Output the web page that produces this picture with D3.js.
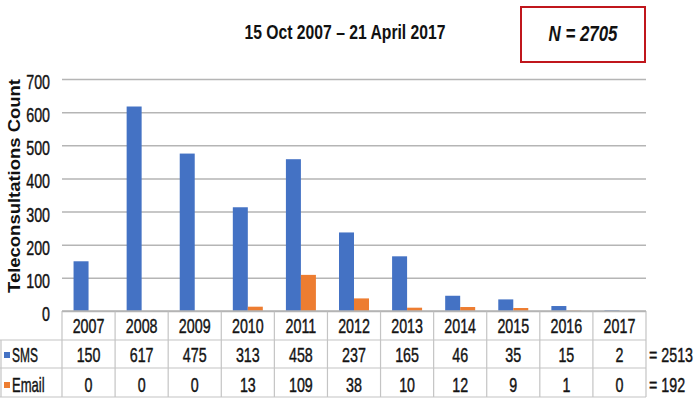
<!DOCTYPE html>
<html>
<head>
<meta charset="utf-8">
<script src="https://cdn.jsdelivr.net/npm/d3@7/dist/d3.min.js"></script>
<style>
  html, body { margin: 0; padding: 0; background: #fff; }
  svg { display: block; }
  text { font-family: "Liberation Sans", Arial, sans-serif; fill: #111; }
</style>
</head>
<body>
<svg id="chart" width="696" height="398"></svg>
<script>
// Teleconsultations per year, by channel
const years = ["2007","2008","2009","2010","2011","2012","2013","2014","2015","2016","2017"];
const smsCounts = [150, 617, 475, 313, 458, 237, 165, 46, 35, 15, 2];
const emailCounts = [0, 0, 0, 13, 109, 38, 10, 12, 9, 1, 0];
const seriesNames = ["SMS", "Email"];
const seriesTotals = ["= 2513", "= 192"];
const yTicks = [0, 100, 200, 300, 400, 500, 600, 700];
const titleText = "15 Oct 2007 \u2013 21 April 2017";
const totalText = "N = 2705";
const yTitle = "Teleconsultations Count";

const colors = { SMS: "#4472C4", Email: "#ED7D31" };
const series = { SMS: smsCounts, Email: emailCounts };

const svg = d3.select("#chart");
const plot = { left: 62, right: 646, top: 79, bottom: 311 };
const rowEdges = [311, 340, 368, 397];
const narrow = 0.68; // horizontal condensing of the text faces
const fs = 21;

const x0 = d3.scaleBand().domain(years).range([plot.left, plot.right]).paddingInner(0).paddingOuter(0);
const x1 = d3.scaleBand().domain(seriesNames).range([0, x0.bandwidth()]).paddingInner(0).paddingOuter(0.77);
const y = d3.scaleLinear().domain([0, 700]).range([plot.bottom, plot.top]);

// gridlines and tick labels
const yAxis = d3.axisLeft(y).tickValues(yTicks).tickSize(-(plot.right - plot.left)).tickPadding(0);
const gAxis = svg.append("g").attr("transform", `translate(${plot.left},0)`).call(yAxis);
gAxis.select(".domain").remove();
gAxis.selectAll(".tick line").attr("stroke", "#b5b5b5").attr("stroke-width", 1.5);
gAxis.selectAll(".tick text")
  .attr("x", 0).attr("dy", "0.36em")
  .attr("font-size", fs).attr("fill", "#1a1a1a")
  .attr("stroke", "#1a1a1a").attr("stroke-width", 0.45)
  .attr("font-family", "Liberation Sans, Arial, sans-serif")
  .attr("text-anchor", "end")
  .attr("transform", `translate(-12,2) scale(${narrow},1)`);

// bars
const groups = svg.append("g").selectAll("g").data(years).join("g")
  .attr("transform", d => `translate(${x0(d)},0)`);
groups.selectAll("rect")
  .data((d, i) => seriesNames.map(k => ({ key: k, value: series[k][i] })))
  .join("rect")
  .attr("x", d => x1(d.key))
  .attr("width", x1.bandwidth())
  .attr("y", d => y(d.value))
  .attr("height", d => plot.bottom - y(d.value))
  .attr("fill", d => colors[d.key]);

// data table under the plot
const table = svg.append("g").attr("stroke", "#c4c4c4").attr("stroke-width", 1.2);
table.append("line").attr("x1", 0).attr("x2", plot.right).attr("y1", rowEdges[1]).attr("y2", rowEdges[1]);
table.append("line").attr("x1", 0).attr("x2", plot.right).attr("y1", rowEdges[2]).attr("y2", rowEdges[2]);
table.append("line").attr("x1", 0).attr("x2", plot.right).attr("y1", rowEdges[3]).attr("y2", rowEdges[3]);
table.append("line").attr("x1", 1).attr("x2", 1).attr("y1", rowEdges[1]).attr("y2", rowEdges[3]);
table.selectAll("line.v").data(years.map(d => x0(d)).concat([plot.right])).join("line")
  .attr("class", "v")
  .attr("x1", d => d).attr("x2", d => d)
  .attr("y1", rowEdges[0]).attr("y2", rowEdges[3]);
// x axis baseline
svg.append("line").attr("x1", plot.left).attr("x2", plot.right)
  .attr("y1", plot.bottom).attr("y2", plot.bottom)
  .attr("stroke", "#b5b5b5").attr("stroke-width", 1.5);

function narrowText(g, txt, x, yy, anchor, size) {
  return g.append("text").text(txt)
    .attr("text-anchor", anchor)
    .attr("font-size", size)
    .attr("fill", "#1a1a1a")
    .attr("stroke", "#1a1a1a").attr("stroke-width", 0.45)
    .attr("transform", `translate(${x},${yy}) scale(${narrow},1)`);
}

const cells = svg.append("g");
years.forEach((yr, i) => {
  const cx = x0(yr) + x0.bandwidth() / 2;
  narrowText(cells, yr, cx, 333, "middle", fs);
  narrowText(cells, String(smsCounts[i]), cx, 362, "middle", fs);
  narrowText(cells, String(emailCounts[i]), cx, 392, "middle", fs);
});

// row labels with colour keys
const rowBase = [362, 392];
seriesNames.forEach((name, j) => {
  cells.append("rect").attr("x", 4).attr("y", rowBase[j] - 10).attr("width", 6).attr("height", 6)
    .attr("fill", colors[name]);
  narrowText(cells, name, 12, rowBase[j], "start", fs)
    .attr("textLength", name === "SMS" ? 38 : 48).attr("lengthAdjust", "spacingAndGlyphs");
  narrowText(cells, seriesTotals[j], 649, rowBase[j], "start", fs);
});

// axis title
svg.append("text").text(yTitle)
  .attr("text-anchor", "middle")
  .attr("font-size", 17).attr("font-weight", "bold")
  .attr("textLength", 214).attr("lengthAdjust", "spacingAndGlyphs")
  .attr("transform", "translate(20,186) rotate(-90)");

// heading
svg.append("text").text(titleText)
  .attr("x", 345).attr("y", 39)
  .attr("text-anchor", "middle")
  .attr("font-size", 20).attr("font-weight", "bold")
  .attr("textLength", 201).attr("lengthAdjust", "spacingAndGlyphs");

// total count box
svg.append("rect").attr("x", 521).attr("y", 7).attr("width", 124).attr("height", 55)
  .attr("fill", "none").attr("stroke", "#C0161C").attr("stroke-width", 2);
svg.append("text").text(totalText)
  .attr("x", 583).attr("y", 41)
  .attr("text-anchor", "middle")
  .attr("font-size", 22).attr("font-style", "italic").attr("font-weight", "bold")
  .attr("fill", "#2E6DB8")
  .attr("textLength", 69).attr("lengthAdjust", "spacingAndGlyphs");
</script>
</body>
</html>
